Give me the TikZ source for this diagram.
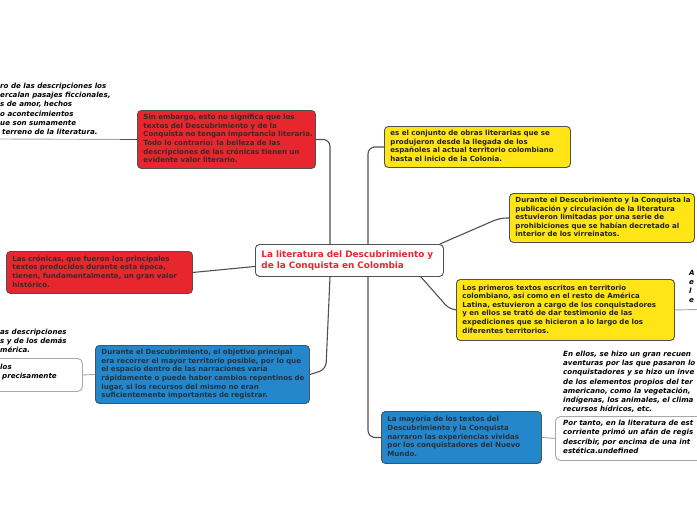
\documentclass[tikz,border=0pt]{standalone}
\usepackage{fontspec}
\setmainfont{DejaVu Sans}
\definecolor{redc}{HTML}{E8262E}
\definecolor{redtx}{HTML}{3A2A2A}
\definecolor{yelc}{HTML}{FFE516}
\definecolor{yeltx}{HTML}{222222}
\definecolor{bluec}{HTML}{2487CB}
\definecolor{bluetx}{HTML}{24323E}
\definecolor{bordc}{HTML}{505050}
\definecolor{connc}{HTML}{505050}
\definecolor{lightc}{HTML}{A8A8A8}
\newcommand\mylines[1]{\begin{tabular}{@{}l@{}}#1\end{tabular}}
\begin{document}
\begin{tikzpicture}[x=1pt,y=-1pt,
  box/.style={draw=bordc, line width=0.9pt, rounded corners=4pt, anchor=north west,
    align=left, inner xsep=6pt, inner ysep=2pt,
    font=\fontsize{7.05}{8.6}\selectfont\bfseries},
  redbox/.style={box, fill=redc, text=redtx},
  yelbox/.style={box, fill=yelc, text=yeltx},
  bluebox/.style={box, fill=bluec, text=bluetx},
  centerbox/.style={draw=bordc, line width=0.9pt, rounded corners=4pt, anchor=north west,
    fill=white, text=redc, align=left, inner xsep=6pt, inner ysep=2pt,
    font=\fontsize{8.9}{11}\selectfont\bfseries},
  conn/.style={draw=connc, line width=1.1pt, rounded corners=7pt},
  uline/.style={draw=lightc, line width=0.9pt},
  itx/.style={anchor=north west, align=left, inner sep=0pt,
    font=\fontsize{7.1}{9.2}\selectfont\bfseries\itshape, text=black},
  itbox/.style={draw=lightc, line width=0.9pt, rounded corners=5pt, fill=white, anchor=north west}]
\useasboundingbox (0,0) rectangle (697,520);
\clip (0,0) rectangle (697,520);

% central node
\node[centerbox, text width=176pt, minimum height=32pt] (center) at (255,244)
  {\mylines{La literatura del Descubrimiento y\\de la Conquista en Colombia}};

% main boxes
\node[redbox, text width=166pt, minimum height=58pt] (redtop) at (137,110)
  {\mylines{Sin embargo, esto no significa que los\\textos del Descubrimiento y de la\\Conquista no tengan importancia literaria.\\Todo lo contrario: la belleza de las\\descripciones de las crónicas tienen un\\evidente valor literario.}};
\node[yelbox, text width=174pt, minimum height=41pt] (yel1) at (384,126)
  {\mylines{es el conjunto de obras literarias que se\\produjeron desde la llegada de los\\españoles al actual territorio colombiano\\hasta el inicio de la Colonia.}};
\node[yelbox, text width=173pt, minimum height=49pt] (yel2) at (509,193)
  {\mylines{Durante el Descubrimiento y la Conquista la\\publicación y circulación de la literatura\\estuvieron limitadas por una serie de\\prohibiciones que se habían decretado al\\interior de los virreinatos.}};
\node[yelbox, text width=206pt, minimum height=61pt] (yel3) at (456,279)
  {\mylines{Los primeros textos escritos en territorio\\colombiano, así como en el resto de América\\Latina, estuvieron a cargo de los conquistadores\\y en ellos se trató de dar testimonio de las\\expediciones que se hicieron a lo largo de los\\diferentes territorios.}};
\node[redbox, text width=174pt, minimum height=42pt] (redleft) at (6,251)
  {\mylines{Las crónicas, que fueron los principales\\textos producidos durante esta época,\\tienen, fundamentalmente, un gran valor\\histórico.}};
\node[bluebox, text width=202pt, minimum height=58pt] (blue1) at (95,345)
  {\mylines{Durante el Descubrimiento, el objetivo principal\\era recorrer el mayor territorio posible, por lo que\\el espacio dentro de las narraciones varía\\rápidamente o puede haber cambios repentinos de\\lugar, si los recursos del mismo no eran\\suficientemente importantes de registrar.}};
\node[bluebox, text width=148pt, minimum height=52pt] (blue2) at (381,411)
  {\mylines{La mayoría de los textos del\\Descubrimiento y la Conquista\\narraron las experiencias vividas\\por los conquistadores del Nuevo\\Mundo.}};

% connectors from the centre
\draw[conn] ([xshift=75pt]center.north west) |- (redtop.east);
\draw[conn] ([xshift=113pt]center.north west) |- (yel1.west);
\draw[conn] ([yshift=-6pt]center.west) -- (redleft.east);
\draw[conn] ([xshift=75pt]center.south west) -- ([xshift=16pt,yshift=5pt]blue1.east) -- (blue1.east);
\draw[conn] ([xshift=113pt]center.south west) |- (blue2.west);
\draw[conn] ([xshift=-4pt]center.north east) -- ([xshift=-9pt]yel2.west) -- (yel2.west);
\draw[conn] ([xshift=-23pt]center.south east) -- ([xshift=-6pt]yel3.west) -- (yel3.west);

% italic children: top left
\node[itx] (itTL) at (0,83)
  {ro de las descripciones los\\ercalan pasajes ficcionales,\\s de amor, hechos\\o acontecimientos\\ue son sumamente\\\hspace*{2pt}terreno de la literatura.};
\coordinate (tlu) at (0,139);
\draw[uline] (tlu) -- ([xshift=-17pt]redtop.west);
\draw[conn] ([xshift=-17pt]redtop.west) -- (redtop.west);

% italic children: left of blue1
\node[itx] (itL1) at (0,329)
  {as descripciones\\s y de los demás\\mérica.};
\node[itbox, minimum width=102pt, minimum height=33pt] (itL2) at (-20,358) {};
\node[itx] (itL2t) at (0,364) {los\\\hspace*{2pt}precisamente};
\draw[uline] (itL2.east) -- (blue1.west);

% italic children: right of blue2
\node[itx] (itR1) at (563,351)
  {En ellos, se hizo un gran recuen\\aventuras por las que pasaron lo\\conquistadores y se hizo un inve\\de los elementos propios del ter\\americano, como la vegetación,\\indígenas, los animales, el clima\\recursos hídricos, etc.};
\node[itbox, minimum width=160pt, minimum height=44pt] (itR2) at (555,416) {};
\node[itx] (itR2t) at (563,420)
  {Por tanto, en la literatura de est\\corriente primó un afán de regis\\describir, por encima de una int\\estética.undefined};
\draw[uline] (blue2.east) -- (itR2.west);

% italic child: right of yel3
\node[itx] (itR3) at (689,270) {A\\e\\l\\e};
\coordinate (r3u) at (697,309.5);
\draw[uline] (yel3.east) -- (r3u);
\end{tikzpicture}
\end{document}
